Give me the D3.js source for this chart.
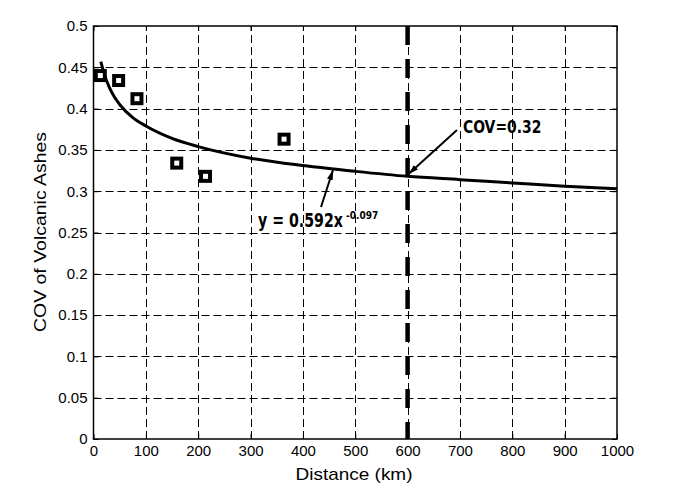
<!DOCTYPE html>
<html>
<head>
<meta charset="utf-8">
<script src="https://cdn.jsdelivr.net/npm/d3@7"></script>
<style>
html,body{margin:0;padding:0;background:#fff;}
svg{display:block;}
</style>
</head>
<body>
<svg id="chart" width="673" height="492"></svg>
<script>
// ---- data ----
const distances = [13, 48, 83, 159, 214, 364];
const covValues = [0.440, 0.434, 0.412, 0.334, 0.318, 0.363];
const fitX = [14, 20, 30, 40, 50, 75, 100, 150, 200, 300, 400, 500, 600, 700, 800, 900, 1000];
const fitY = [0.457, 0.443, 0.426, 0.414, 0.405, 0.389, 0.379, 0.364, 0.354, 0.340, 0.331, 0.324, 0.318, 0.314, 0.310, 0.306, 0.303];
const xTicks = [0, 100, 200, 300, 400, 500, 600, 700, 800, 900, 1000];
const yTicks = [0, 0.05, 0.1, 0.15, 0.2, 0.25, 0.3, 0.35, 0.4, 0.45, 0.5];
const yTickLabels = ["0", "0.05", "0.1", "0.15", "0.2", "0.25", "0.3", "0.35", "0.4", "0.45", "0.5"];
const thresholdX = [600];
const covLabel = "COV=0.32";
const eqMain = "y = 0.592x";
const eqExp = "-0.097";
const xLabel = "Distance (km)";
const yLabel = "COV of Volcanic Ashes";

// ---- layout ----
const L = 93.5, R = 617, T = 26, B = 439;
const svg = d3.select("#chart");
const x = d3.scaleLinear().domain([0, 1000]).range([L, R]);
const y = d3.scaleLinear().domain([0, 0.5]).range([B, T]);
const font = "'Liberation Sans', Arial, sans-serif";
const narrow = "'DejaVu Sans Condensed', 'Liberation Sans Narrow', 'Liberation Sans', sans-serif";

// grid
const grid = svg.append("g").attr("stroke", "#000").attr("stroke-width", 1).attr("stroke-dasharray", "8,4").attr("fill", "none");
grid.selectAll(".vg").data(xTicks.slice(1, -1)).join("line")
  .attr("x1", d => Math.round(x(d)) + 0.5).attr("x2", d => Math.round(x(d)) + 0.5)
  .attr("y1", B).attr("y2", T);
grid.selectAll(".hg").data(yTicks.slice(1, -1)).join("line")
  .attr("y1", d => Math.round(y(d)) + 0.5).attr("y2", d => Math.round(y(d)) + 0.5)
  .attr("x1", L).attr("x2", R);

// axes
const xAxis = d3.axisBottom(x).tickValues(xTicks).tickFormat(d3.format("d")).tickSizeInner(-5).tickSizeOuter(0).tickPadding(6);
const yAxis = d3.axisLeft(y).tickValues(yTicks).tickFormat((d, i) => yTickLabels[i]).tickSizeInner(-5).tickSizeOuter(0).tickPadding(6);
const gx = svg.append("g").attr("transform", `translate(0,${B})`).call(xAxis);
const gy = svg.append("g").attr("transform", `translate(${L},0)`).call(yAxis);
const gxt = svg.append("g").attr("transform", `translate(0,${T})`).call(d3.axisTop(x).tickValues(xTicks).tickFormat("").tickSizeInner(-5).tickSizeOuter(0));
const gyr = svg.append("g").attr("transform", `translate(${R},0)`).call(d3.axisRight(y).tickValues(yTicks).tickFormat("").tickSizeInner(-5).tickSizeOuter(0));
[gx, gy, gxt, gyr].forEach(g => {
  g.select(".domain").remove();
  g.selectAll("line").attr("stroke", "#000").attr("stroke-width", 1);
  g.selectAll("text").attr("font-family", font).attr("font-size", 15).attr("fill", "#000");
});
// frame
svg.append("rect").attr("x", L).attr("y", T).attr("width", R - L).attr("height", B - T)
  .attr("fill", "none").attr("stroke", "#000").attr("stroke-width", 1.5);

// threshold line
svg.selectAll(".thr").data(thresholdX).join("line")
  .attr("x1", d => x(d)).attr("x2", d => x(d)).attr("y1", T).attr("y2", B)
  .attr("stroke", "#000").attr("stroke-width", 4.5).attr("stroke-dasharray", "19,14");

// fitted curve
const fit = fitX.map((d, i) => [d, fitY[i]]);
svg.append("path").datum(fit)
  .attr("d", d3.line().x(d => x(d[0])).y(d => y(d[1])).curve(d3.curveMonotoneX))
  .attr("fill", "none").attr("stroke", "#000").attr("stroke-width", 3);

// markers
svg.selectAll(".pt").data(distances.map((d, i) => [d, covValues[i]])).join("rect")
  .attr("x", d => x(d[0]) - 4.5).attr("y", d => y(d[1]) - 4.5)
  .attr("width", 9).attr("height", 9)
  .attr("fill", "#fff").attr("stroke", "#000").attr("stroke-width", 4);

// arrows
const defs = svg.append("defs");
defs.append("marker").attr("id", "ah").attr("viewBox", "0 0 10 6").attr("refX", 10).attr("refY", 3)
  .attr("markerWidth", 10).attr("markerHeight", 6).attr("markerUnits", "userSpaceOnUse").attr("orient", "auto")
  .append("path").attr("d", "M0,0 L10,3 L0,6 Z").attr("fill", "#000");
svg.append("line").attr("x1", 457).attr("y1", 130).attr("x2", x(600) + 1).attr("y2", 174)
  .attr("stroke", "#000").attr("stroke-width", 2).attr("marker-end", "url(#ah)");
svg.append("line").attr("x1", 321).attr("y1", 207).attr("x2", 333).attr("y2", 170)
  .attr("stroke", "#000").attr("stroke-width", 2).attr("marker-end", "url(#ah)");

// annotation texts
svg.append("text").attr("transform", "translate(463,133) scale(0.86,1)").attr("font-family", narrow).attr("font-weight", "bold")
  .attr("font-size", 18).text(covLabel);
svg.append("text").attr("transform", "translate(258,227) scale(0.83,1)").attr("font-family", narrow).attr("font-weight", "bold")
  .attr("font-size", 19).text(eqMain);
svg.append("text").attr("x", 346).attr("y", 219).attr("font-family", narrow).attr("font-weight", "bold")
  .attr("font-size", 10).text(eqExp);

// axis labels
svg.append("text").attr("x", 354).attr("y", 480).attr("text-anchor", "middle")
  .attr("font-family", font).attr("font-size", 17).attr("textLength", 117).attr("lengthAdjust", "spacingAndGlyphs").text(xLabel);
svg.append("text").attr("transform", "translate(46,232) rotate(-90)").attr("text-anchor", "middle")
  .attr("font-family", font).attr("font-size", 17).attr("textLength", 200).attr("lengthAdjust", "spacingAndGlyphs").text(yLabel);
</script>
</body>
</html>
